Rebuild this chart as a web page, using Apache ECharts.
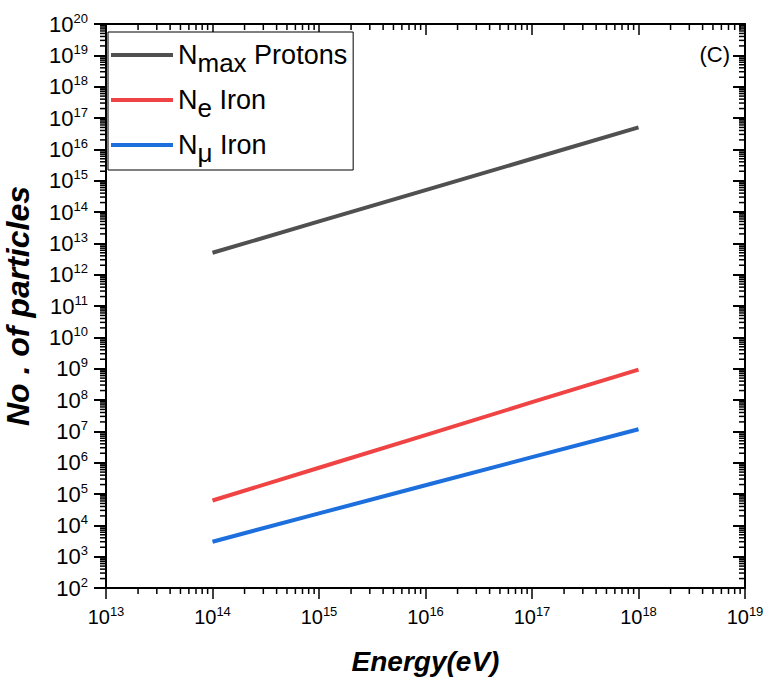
<!DOCTYPE html>
<html>
<head>
<meta charset="utf-8">
<script src="https://cdn.jsdelivr.net/npm/echarts@6/dist/echarts.min.js"></script>
<style>
  html, body { margin: 0; padding: 0; background: #fff; }
  #chart { width: 766px; height: 679px; }
</style>
</head>
<body>
<div id="chart"></div>
<script>
(function() {
  // --- data ---
  var energy = [1e14, 1e15, 1e16, 1e17, 1e18];
  var nmaxProtons = [5.0e12, 5.0e13, 5.0e14, 5.0e15, 5.0e16];
  var neIron = [6.2e4, 6.9e5, 7.6e6, 8.5e7, 9.3e8];
  var nmuIron = [3.0e3, 2.4e4, 1.9e5, 1.5e6, 1.17e7];
  var seriesNames = ['Nmax Protons', 'Ne Iron', 'Nmu Iron'];

  var xMin = 1e13, xMax = 1e19;
  var yMin = 1e2, yMax = 1e20;

  var ink = '#000';
  var font = 'Liberation Sans';

  function pairs(ys) {
    return energy.map(function(x, i) { return [x, ys[i]]; });
  }

  // minor tick positions 2..9 x 10^k
  function minorValues(lo, hi) {
    var out = [];
    for (var k = lo; k < hi; k++) {
      for (var m = 2; m <= 9; m++) out.push(m * Math.pow(10, k));
    }
    return out;
  }
  var xMinor = minorValues(13, 19);
  var yMinor = minorValues(2, 20);

  function powLabel(v) {
    var e = Math.round(Math.log(v) / Math.LN10);
    return '{b|10}{e|' + e + '}';
  }

  function xAxisDef(pos, inside, showLabel) {
    return {
      type: 'log', position: pos, min: xMin, max: xMax, logBase: 10,
      axisLine: { show: true, lineStyle: { color: ink, width: 2 } },
      axisTick: { show: true, inside: inside, length: 11, lineStyle: { color: ink, width: 1.5 } },
      axisLabel: showLabel ? {
        show: true, margin: 17, formatter: powLabel,
        rich: {
          b: { fontSize: 20, fontFamily: font, color: ink },
          e: { fontSize: 13, fontFamily: font, color: ink, padding: [0, 0, 11, 0] }
        }
      } : { show: false },
      splitLine: { show: false }
    };
  }
  function yAxisDef(pos, inside, showLabel) {
    return {
      type: 'log', position: pos, min: yMin, max: yMax, logBase: 10, interval: 1,
      axisLine: { show: true, lineStyle: { color: ink, width: 2 } },
      axisTick: { show: true, inside: inside, length: 12, lineStyle: { color: ink, width: 2 } },
      axisLabel: showLabel ? {
        show: true, margin: 18, formatter: powLabel,
        rich: {
          b: { fontSize: 22, fontFamily: font, color: ink },
          e: { fontSize: 13, fontFamily: font, color: ink, padding: [0, 0, 12, 0] }
        }
      } : { show: false },
      splitLine: { show: false }
    };
  }

  var xAxes = [xAxisDef('bottom', false, true), xAxisDef('top', true, false)];
  xAxes[0].name = 'Energy(eV)';
  xAxes[0].nameLocation = 'middle';
  xAxes[0].nameGap = 59;
  xAxes[0].nameTextStyle = { fontSize: 28, fontWeight: 'bold', fontStyle: 'italic', fontFamily: font, color: ink };

  var yAxes = [yAxisDef('left', false, true), yAxisDef('right', true, false)];
  yAxes[0].name = 'No . of particles';
  yAxes[0].nameLocation = 'middle';
  yAxes[0].nameRotate = 90;
  yAxes[0].nameGap = 72;
  yAxes[0].nameTextStyle = { fontSize: 32, fontWeight: 'bold', fontStyle: 'italic', fontFamily: font, color: ink };

  function lineSeries(name, color, ys) {
    return {
      name: name, type: 'line', data: pairs(ys),
      xAxisIndex: 0, yAxisIndex: 0,
      showSymbol: false, symbol: 'none',
      lineStyle: { color: color, width: 4 },
      itemStyle: { color: color }
    };
  }

  var legendText = {
    'Nmax Protons': '{n|N}{s|max}{n| Protons}',
    'Ne Iron': '{n|N}{s|e}{n| Iron}',
    'Nmu Iron': '{n|N}{s|\u03bc}{n| Iron}'
  };

  var chart = echarts.init(document.getElementById('chart'), null, { renderer: 'svg' });
  chart.setOption({
    animation: false,
    grid: { left: 106, right: 21, top: 24, bottom: 91, containLabel: false, outerBoundsMode: 'none' },
    xAxis: xAxes,
    yAxis: yAxes,
    legend: {
      data: seriesNames,
      orient: 'vertical',
      left: 108, top: 32,
      padding: [2, 6, 4, 3],
      itemGap: 3,
      itemWidth: 62, itemHeight: 4,
      icon: 'rect',
      borderColor: ink, borderWidth: 1,
      borderRadius: 0,
      backgroundColor: '#fff',
      formatter: function(n) { return legendText[n]; },
      textStyle: {
        color: ink, fontFamily: font,
        rich: {
          n: { fontSize: 27, lineHeight: 26, fontFamily: font, color: ink },
          s: { fontSize: 26, lineHeight: 26, fontFamily: font, color: ink, padding: [16, 0, 0, 0] }
        }
      }
    },
    series: [
      lineSeries(seriesNames[0], '#505050', nmaxProtons),
      lineSeries(seriesNames[1], '#f04444', neIron),
      lineSeries(seriesNames[2], '#1c6fdc', nmuIron)
    ]
  });

  // short minor ticks on all four sides, placed through the axes' scales
  function tickLine(x1, y1, x2, y2) {
    return { type: 'line', shape: { x1: x1, y1: y1, x2: x2, y2: y2 }, style: { stroke: ink, lineWidth: 1.5 } };
  }
  var ticks = [];
  var px = function(p) { return chart.convertToPixel({ xAxisIndex: 0, yAxisIndex: 0 }, p); };
  xMinor.forEach(function(v) {
    var b = px([v, yMin]);
    var t = px([v, yMax]);
    ticks.push(tickLine(b[0], b[1], b[0], b[1] + 6));
    ticks.push(tickLine(t[0], t[1], t[0], t[1] + 6));
  });
  yMinor.forEach(function(v) {
    var l = px([xMin, v]);
    var r = px([xMax, v]);
    ticks.push(tickLine(l[0] - 6, l[1], l[0], l[1]));
    ticks.push(tickLine(r[0] - 6, r[1], r[0], r[1]));
  });
  ticks.push({
    type: 'text', right: 36, top: 43,
    style: { text: '(C)', font: '22px "Liberation Sans"', fill: ink }
  });
  chart.setOption({ graphic: ticks });
})();
</script>
</body>
</html>
